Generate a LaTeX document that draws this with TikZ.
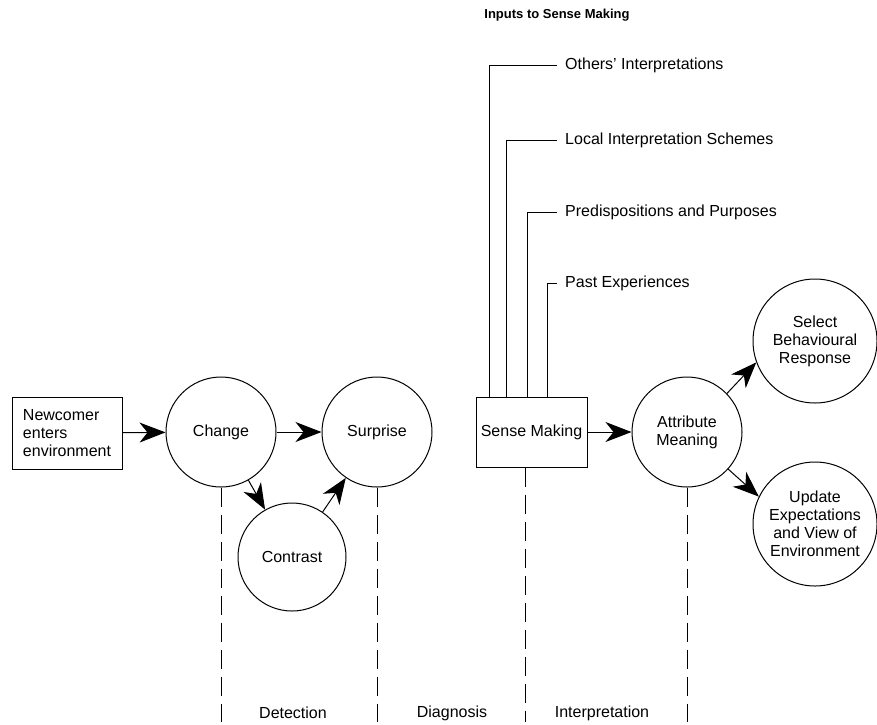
\documentclass[tikz,border=0pt]{standalone}
\usepackage{fontspec}
\setmainfont{Liberation Sans}
\usetikzlibrary{arrows.meta}
\begin{document}
\begin{tikzpicture}[x=1pt,y=-1pt,
  every node/.style={font=\fontsize{16}{18}\selectfont},
  stage/.style={draw,circle,line width=1pt,minimum size=110pt,inner sep=0pt,align=center},
  bigstage/.style={stage,minimum size=124pt},
  boxnode/.style={draw,rectangle,line width=1pt,inner sep=0pt,align=left},
  arr/.style={line width=1pt,-{Stealth[length=26pt,width=20pt,inset=8pt]}},
  feed/.style={line width=1pt},
  phase/.style={line width=1pt,dash pattern=on 19pt off 8pt},
  inlabel/.style={anchor=west,inner xsep=8pt,inner ysep=0pt},
  steplabel/.style={inner sep=0pt}]
\useasboundingbox (0,0) rectangle (877,724);

% main chain
\node[boxnode,minimum width=110pt,minimum height=72pt] (newc) at (67,433)
  {Newcomer\\enters\\environment};
\node[stage] (change) at (221,432) {Change};
\node[stage] (surprise) at (377,432) {Surprise};
\node[stage,minimum size=108pt] (contrast) at (292,557) {Contrast};
\node[boxnode,minimum width=111pt,minimum height=70pt,align=center] (sm) at (531.5,432) {Sense Making};
\node[stage] (attr) at (687,432) {Attribute\\Meaning};
\node[bigstage] (select) at (815,341) {Select\\Behavioural\\Response};
\node[bigstage] (update) at (815,524) {Update\\Expectations\\and View of\\Environment};

\draw[arr] (newc) -- (change);
\draw[arr] (change) -- (surprise);
\draw[arr] (change) -- (contrast);
\draw[arr] (contrast) -- (surprise);
\draw[arr] (sm) -- (attr);
\draw[arr] (attr.44) -- (select.200);
\draw[arr] (attr.-42) -- (update.154);

% inputs to sense making
\node[font=\fontsize{13}{15}\selectfont\bfseries] (inputs) at (557,15) {Inputs to Sense Making};
\node[inlabel] (oth) at (557,65) {Others’ Interpretations};
\node[inlabel] (loc) at (557,140) {Local Interpretation Schemes};
\node[inlabel] (pre) at (557,212) {Predispositions and Purposes};
\node[inlabel] (past) at (557,283) {Past Experiences};
\draw[feed] (sm.north west) ++(14,0) |- (oth.west);
\draw[feed] (sm.north west) ++(31,0) |- (loc.west);
\draw[feed] (sm.north west) ++(52,0) |- (pre.west);
\draw[feed] (sm.north west) ++(72,0) |- (past.west);

% phase boundaries
\coordinate (bottom) at (0,722);
\draw[phase] (change.south) -- (change.south |- bottom);
\draw[phase] (surprise.south) -- (surprise.south |- bottom);
\draw[phase] (sm.south) ++(-6,0) coordinate (smb) -- (smb |- bottom);
\draw[phase] (attr.south) -- (attr.south |- bottom);

\node[steplabel] (det) at (293,713) {Detection};
\node[steplabel] (dia) at (452,713) {Diagnosis};
\node[steplabel] (int) at (602,713) {Interpretation};
\end{tikzpicture}
\end{document}
